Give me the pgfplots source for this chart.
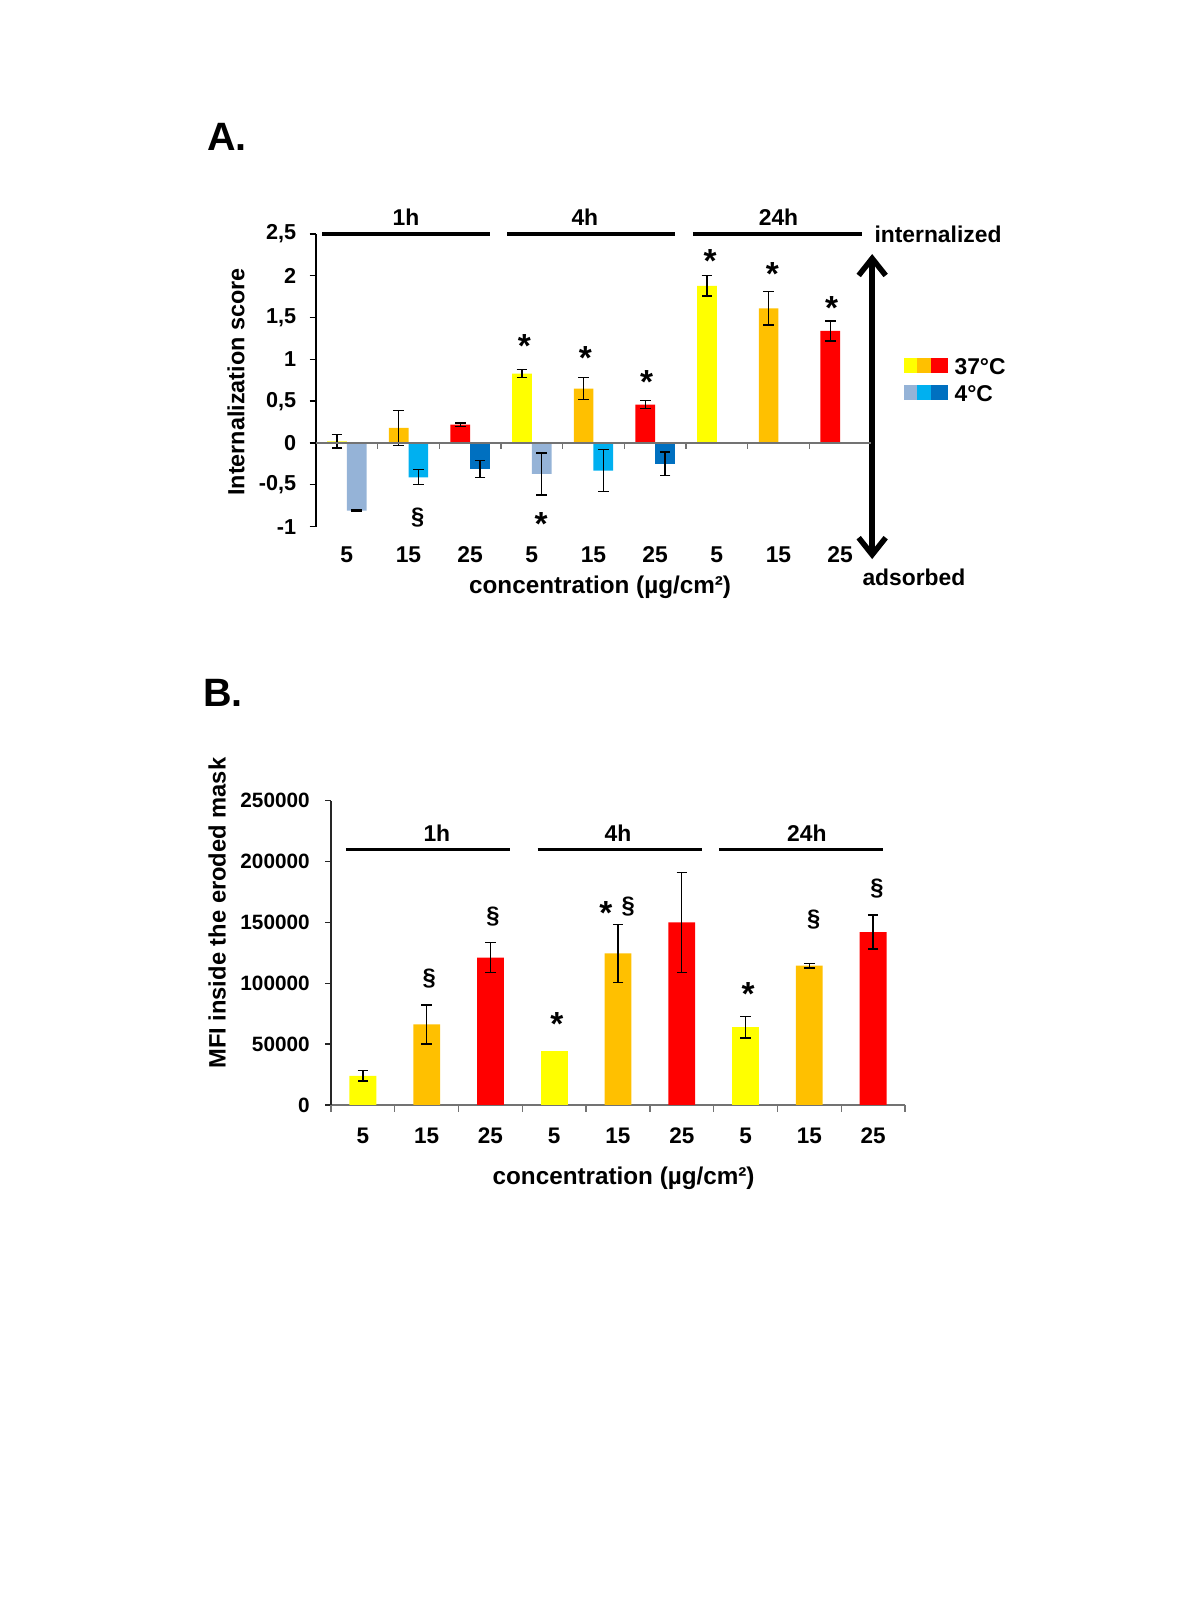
\documentclass[border=0pt]{standalone}
\usepackage{fontspec}
\setmainfont{Liberation Sans}
\usepackage{pgfplots}
\pgfplotsset{compat=1.18}
\usetikzlibrary{arrows.meta}
\definecolor{cyel}{HTML}{FFFF00}
\definecolor{corg}{HTML}{FFC000}
\definecolor{cred}{HTML}{FF0000}
\definecolor{cbA}{HTML}{95B3D7}
\definecolor{cbB}{HTML}{00B0F0}
\definecolor{cbC}{HTML}{0070C0}
\newcommand{\fs}[1]{\fontsize{#1}{#1}\selectfont}
\pgfplotsset{
  errb/.style={error bars/.cd, y dir=both, y explicit,
    error bar style={black, line width=0.8pt},
    error mark options={rotate=90, mark size=1.05mm, black, line width=0.8pt}},
}
\tikzset{
  star/.style={font=\bfseries\fs{19}, inner sep=0pt, yshift=-2.5pt},
  sect/.style={font=\bfseries\fs{13.5}, inner sep=0pt},
}
\begin{document}
\begin{tikzpicture}
\useasboundingbox (0,0) rectangle (24cm,32cm);
% ---------- texts in pixel coordinates ----------
\begin{scope}[shift={(0,32cm)}, x=0.02cm, y=-0.02cm]
  \node[anchor=base west, inner sep=0pt, font=\bfseries\fs{22.5}] at (207,150.7) {A.};
  \node[anchor=base west, inner sep=0pt, font=\bfseries\fs{22.5}] at (203,706) {B.};
  \node[rotate=90, inner sep=0pt, font=\bfseries\fs{13.3}] at (236,382) {Internalization score};
  \node[inner sep=0pt, font=\bfseries\fs{13.8}] at (600,587) {concentration (µg/cm²)};
  \node[anchor=west, inner sep=0pt, font=\bfseries\fs{13}] at (874,234.5) {internalized};
  \node[anchor=west, inner sep=0pt, font=\bfseries\fs{13}] at (862,577.5) {adsorbed};
  % legend
  \fill[cyel] (904,358) rectangle (921,373);
  \fill[corg] (917,358) rectangle (934,373);
  \fill[cred] (931,358) rectangle (948,373);
  \fill[cbA] (904,385) rectangle (921,400);
  \fill[cbB] (917,385) rectangle (934,400);
  \fill[cbC] (931,385) rectangle (948,400);
  \node[anchor=west, inner sep=0pt, font=\bfseries\fs{13}] at (954,367) {37°C};
  \node[anchor=west, inner sep=0pt, font=\bfseries\fs{13}] at (954,394) {4°C};
  % arrow
  \draw[line width=1.1mm, {Straight Barb[length=3.4mm,width=5.4mm]}-{Straight Barb[length=3.4mm,width=5.4mm]}] (872,254) -- (872,559);
  % panel B labels
  \node[rotate=90, inner sep=0pt, font=\bfseries\fs{13.5}] at (217,913) {MFI inside the eroded mask};
  \node[inner sep=0pt, font=\bfseries\fs{13.8}] at (623.5,1178) {concentration (µg/cm²)};
\end{scope}

% ---------- Panel A ----------
\begin{axis}[
  at={(6.32cm,21.468cm)}, anchor=south west,
  scale only axis, width=11.1cm, height=5.852cm,
  xmin=-0.5, xmax=8.5, ymin=-1, ymax=2.5,
  axis x line*=bottom, axis y line*=left, axis line style={-},
  x axis line style={draw=none},
  y axis line style={black, line width=0.8pt},
  xtick={0,...,8}, xticklabels={5,15,25,5,15,25,5,15,25},
  x tick style={draw=none},
  ytick={-1,-0.5,0,0.5,1,1.5,2,2.5},
  yticklabels={{-1},{-0,5},{0},{0,5},{1},{1,5},{2},{2,5}},
  ytick align=outside, y tick style={black, line width=0.8pt},
  major tick length=1.3mm,
  x tick label style={font=\bfseries\fs{13}, anchor=base, yshift=-7.1mm},
  y tick label style={font=\bfseries\fs{12.3}, anchor=east, inner sep=0pt, xshift=-2.6mm},
  clip=false,
]
\addplot[ybar, bar width=0.32, fill=cyel, draw=none, errb]
  coordinates {(-0.16,0.02) +- (0,0.08) (2.84,0.83) +- (0,0.05) (5.84,1.88) +- (0,0.12)};
\addplot[ybar, bar width=0.32, fill=corg, draw=none, errb]
  coordinates {(0.84,0.18) +- (0,0.21) (3.84,0.65) +- (0,0.13) (6.84,1.61) +- (0,0.20)};
\addplot[ybar, bar width=0.32, fill=cred, draw=none, errb]
  coordinates {(1.84,0.22) +- (0,0.02) (4.84,0.46) +- (0,0.05) (7.84,1.34) +- (0,0.12)};
\addplot[ybar, bar width=0.32, fill=cbA, draw=none, errb]
  coordinates {(0.16,-0.81) +- (0,0.01) (3.16,-0.37) +- (0,0.25)};
\addplot[ybar, bar width=0.32, fill=cbB, draw=none, errb]
  coordinates {(1.16,-0.41) +- (0,0.09) (4.16,-0.33) +- (0,0.25)};
\addplot[ybar, bar width=0.32, fill=cbC, draw=none, errb]
  coordinates {(2.16,-0.31) +- (0,0.10) (5.16,-0.25) +- (0,0.14)};
% zero line with ticks
\draw[black!55, line width=0.8pt] (axis cs:-0.5,0) -- (axis cs:8.5,0);
\pgfplotsinvokeforeach{0.5,1.5,2.5,3.5,4.5,5.5,6.5,7.5}{
  \draw[black!55, line width=0.8pt] (axis cs:#1,0) -- ([yshift=-1.3mm]axis cs:#1,0);}
% group lines
\draw[line width=2pt] (axis cs:-0.40,2.5) -- (axis cs:2.32,2.5);
\draw[line width=2pt] (axis cs:2.60,2.5) -- (axis cs:5.32,2.5);
\draw[line width=2pt] (axis cs:5.61,2.5) -- (axis cs:8.35,2.5);
\node[font=\bfseries\fs{13}, inner sep=0pt] at (axis cs:0.96,2.695) {1h};
\node[font=\bfseries\fs{13}, inner sep=0pt] at (axis cs:3.86,2.695) {4h};
\node[font=\bfseries\fs{13}, inner sep=0pt] at (axis cs:7.0,2.695) {24h};
% significance marks
\node[star] at (axis cs:2.88,1.21) {*};
\node[star] at (axis cs:3.87,1.07) {*};
\node[star] at (axis cs:4.86,0.78) {*};
\node[star] at (axis cs:5.89,2.23) {*};
\node[star] at (axis cs:6.90,2.07) {*};
\node[star] at (axis cs:7.86,1.67) {*};
\node[star] at (axis cs:3.15,-0.92) {*};
\node[sect] at (axis cs:1.15,-0.89) {§};
\end{axis}

% ---------- Panel B ----------
\begin{axis}[
  at={(6.62cm,9.9cm)}, anchor=south west,
  scale only axis, width=11.48cm, height=6.086cm,
  xmin=-0.5, xmax=8.5, ymin=0, ymax=250000,
  axis x line*=bottom, axis y line*=left, axis line style={-},
  x axis line style={black!55, line width=0.8pt},
  y axis line style={black!85, line width=0.8pt},
  xtick={0,...,8}, xticklabels={5,15,25,5,15,25,5,15,25},
  x tick style={draw=none},
  ytick={0,50000,100000,150000,200000,250000},
  yticklabels={0,50000,100000,150000,200000,250000},
  scaled y ticks=false,
  ytick align=outside, y tick style={black!85, line width=0.8pt},
  major tick length=1.2mm,
  x tick label style={font=\bfseries\fs{12.8}, anchor=base, yshift=-7.7mm},
  y tick label style={font=\bfseries\fs{11.8}, anchor=east, inner sep=0pt, xshift=-3mm},
  clip=false,
]
\addplot[ybar, bar width=0.42, fill=cyel, draw=none, errb]
  coordinates {(0,24000) +- (0,4400) (6,64000) +- (0,8900)};
\addplot[ybar, bar width=0.42, fill=cyel, draw=none]
  coordinates {(3,44600)};
\addplot[ybar, bar width=0.42, fill=corg, draw=none, errb]
  coordinates {(1,66200) +- (0,16000) (4,124500) +- (0,24000) (7,114400) +- (0,2000)};
\addplot[ybar, bar width=0.42, fill=cred, draw=none, errb]
  coordinates {(2,121000) +- (0,12300) (5,150000) +- (0,41000) (8,142000) +- (0,14000)};
\pgfplotsinvokeforeach{-0.5,0.5,1.5,2.5,3.5,4.5,5.5,6.5,7.5,8.5}{
  \draw[black!55, line width=0.8pt] (axis cs:#1,0) -- ([yshift=-1.4mm]axis cs:#1,0);}
% group lines
\draw[line width=2pt] (axis cs:-0.265,210000) -- (axis cs:2.31,210000);
\draw[line width=2pt] (axis cs:2.74,210000) -- (axis cs:5.31,210000);
\draw[line width=2pt] (axis cs:5.58,210000) -- (axis cs:8.16,210000);
\node[font=\bfseries\fs{13}, inner sep=0pt] at (axis cs:1.16,223000) {1h};
\node[font=\bfseries\fs{13}, inner sep=0pt] at (axis cs:4.0,223000) {4h};
\node[font=\bfseries\fs{13}, inner sep=0pt] at (axis cs:6.96,223000) {24h};
% significance marks
\node[sect] at (axis cs:1.04,104000) {§};
\node[sect] at (axis cs:2.04,154600) {§};
\node[star] at (axis cs:3.04,70000) {*};
\node[star] at (axis cs:3.81,161700) {*};
\node[sect] at (axis cs:4.16,163400) {§};
\node[star] at (axis cs:6.04,94400) {*};
\node[sect] at (axis cs:7.07,152700) {§};
\node[sect] at (axis cs:8.06,178200) {§};
\end{axis}
\end{tikzpicture}
\end{document}
